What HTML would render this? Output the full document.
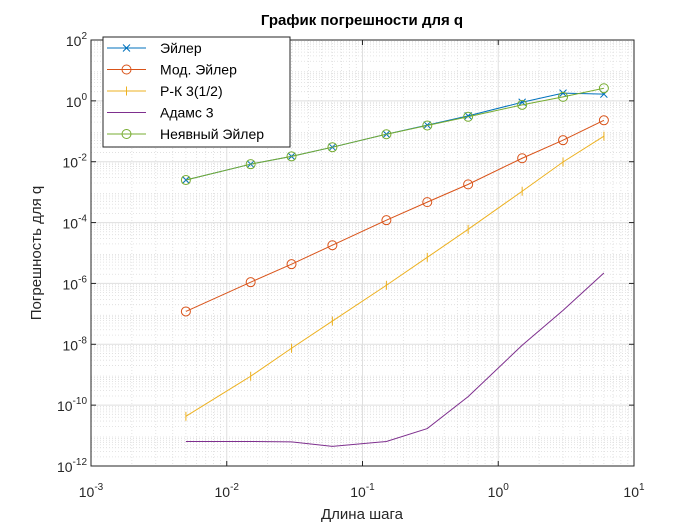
<!DOCTYPE html>
<html><head><meta charset="utf-8"><style>
body{margin:0;background:#fff;}
svg{display:block;font-family:"Liberation Sans","Noto Sans CJK SC",sans-serif;}
</style></head><body>
<svg id="c" width="700" height="525"></svg>
<script>
const xs=[0.005,0.015,0.03,0.06,0.15,0.3,0.6,1.5,3,6];
const euler=[2.5e-3,8.3e-3,1.5e-2,3e-2,8e-2,0.16,0.32,0.9,1.8,1.66];
const modEuler=[1.2e-7,1.1e-6,4.3e-6,1.8e-5,1.2e-4,4.7e-4,1.8e-3,1.3e-2,5.1e-2,0.23];
const rk3=[4.3e-11,8.9e-10,7.4e-9,5.8e-8,8.7e-7,7.2e-6,6e-5,1.07e-3,9.8e-3,6.9e-2];
const adams=[6.4e-12,6.4e-12,6.2e-12,4.4e-12,6.4e-12,1.7e-11,1.9e-10,9.3e-9,1.3e-7,2.2e-6];
const implicitEuler=[2.5e-3,8.3e-3,1.5e-2,3e-2,8e-2,0.155,0.3,0.74,1.35,2.6];
const xTickExp=[-3,-2,-1,0,1];
const yTickExp=[-12,-10,-8,-6,-4,-2,0,2];

const NS="http://www.w3.org/2000/svg";
const svg=document.getElementById('c');
const L=91,R=634,T=40,B=466;
const X=v=>L+(Math.log10(v)+3)/4*(R-L);
const Y=v=>T+(2-Math.log10(v))/14*(B-T);
function el(tag,attrs,parent){const e=document.createElementNS(NS,tag);for(const k in attrs)e.setAttribute(k,attrs[k]);(parent||svg).appendChild(e);return e;}
el('rect',{x:L,y:T,width:R-L,height:B-T,fill:'#fff'});
const grid=el('g',{});


for(let e=-3;e<1;e++)for(let m=2;m<10;m++){const x=X(m*Math.pow(10,e));el('line',{x1:x,x2:x,y1:T,y2:B,stroke:'#dcdcdc','stroke-dasharray':'1,2','stroke-width':0.8},grid);}
for(let e=-12;e<2;e++)for(let m=2;m<10;m++){const y=Y(m*Math.pow(10,e));el('line',{x1:L,x2:R,y1:y,y2:y,stroke:'#dcdcdc','stroke-dasharray':'1,2','stroke-width':0.8},grid);}
xTickExp.forEach(e=>{const x=X(Math.pow(10,e));el('line',{x1:x,x2:x,y1:T,y2:B,stroke:'#dfdfdf'},grid);});
yTickExp.forEach(e=>{const y=Y(Math.pow(10,e));el('line',{x1:L,x2:R,y1:y,y2:y,stroke:'#dfdfdf'},grid);});

const series=[
 {name:'Эйлер',d:euler,c:'#0072BD',m:'x'},
 {name:'Мод. Эйлер',d:modEuler,c:'#D95319',m:'o'},
 {name:'Р-К 3(1/2)',d:rk3,c:'#EDB120',m:'|'},
 {name:'Адамс 3',d:adams,c:'#7E2F8E',m:''},
 {name:'Неявный Эйлер',d:implicitEuler,c:'#77AC30',m:'o'}];
function marker(g,m,x,y,c){
 if(m==='o')el('circle',{cx:x,cy:y,r:4.5,fill:'none',stroke:c,'stroke-width':1},g);
 else if(m==='x'){el('path',{d:`M${x-3.5},${y-3.5}L${x+3.5},${y+3.5}M${x-3.5},${y+3.5}L${x+3.5},${y-3.5}`,stroke:c,'stroke-width':1},g);}
 else if(m==='|')el('line',{x1:x,x2:x,y1:y-4.5,y2:y+4.5,stroke:c,'stroke-width':1},g);
}
series.forEach(s=>{
 const g=el('g',{});
 
 
 el('polyline',{points:xs.map((x,i)=>X(x)+','+Y(s.d[i])).join(' '),fill:'none',stroke:s.c,'stroke-width':1},g);
 xs.forEach((x,i)=>marker(g,s.m,X(x),Y(s.d[i]),s.c));
});
el('rect',{x:L,y:T,width:R-L,height:B-T,fill:'none',stroke:'#262626','stroke-width':1});
const ax=el('g',{fill:'#262626','font-size':14});


function powLabel(x,y,anchor,e){
 const t=el('text',{x:x,y:y,'text-anchor':anchor},ax);
 const b=document.createElementNS(NS,'tspan');b.textContent='10';t.appendChild(b);
 const s=document.createElementNS(NS,'tspan');s.setAttribute('dy','-7');s.setAttribute('font-size','10');s.textContent=String(e);t.appendChild(s);
}
xTickExp.forEach(e=>{const x=X(Math.pow(10,e));
 el('line',{x1:x,x2:x,y1:B,y2:B-5,stroke:'#262626'},ax);el('line',{x1:x,x2:x,y1:T,y2:T+5,stroke:'#262626'},ax);
 powLabel(x,B+31,'middle',e);});
yTickExp.forEach(e=>{const y=Y(Math.pow(10,e));
 el('line',{x1:L,x2:L+5,y1:y,y2:y,stroke:'#262626'},ax);el('line',{x1:R,x2:R-5,y1:y,y2:y,stroke:'#262626'},ax);
 powLabel(L-4,y+6,'end',e);});
const tt=el('text',{x:362,y:25,'text-anchor':'middle','font-size':15,'font-weight':'bold',fill:'#000'});tt.textContent='График погрешности для q';

const xl=el('text',{x:362,y:519,'text-anchor':'middle','font-size':15,fill:'#262626'});xl.textContent='Длина шага';

const yl=el('text',{x:0,y:0,'text-anchor':'middle','font-size':15,fill:'#262626',transform:'translate(41,253) rotate(-90)'});yl.textContent='Погрешность для q';

const lg=el('g',{});


el('rect',{x:103,y:37,width:187,height:110,fill:'#fff',stroke:'#262626','stroke-width':1},lg);
series.forEach((s,i)=>{const y=48+i*21.5;
 const eg=el('g',{},lg);
 
 
 el('line',{x1:107,x2:146,y1:y,y2:y,stroke:s.c},eg);marker(eg,s.m,126.5,y,s.c);
 const t=el('text',{x:160,y:y+5,'font-size':14,fill:'#000'},eg);t.textContent=s.name;});
</script>
</body></html>
